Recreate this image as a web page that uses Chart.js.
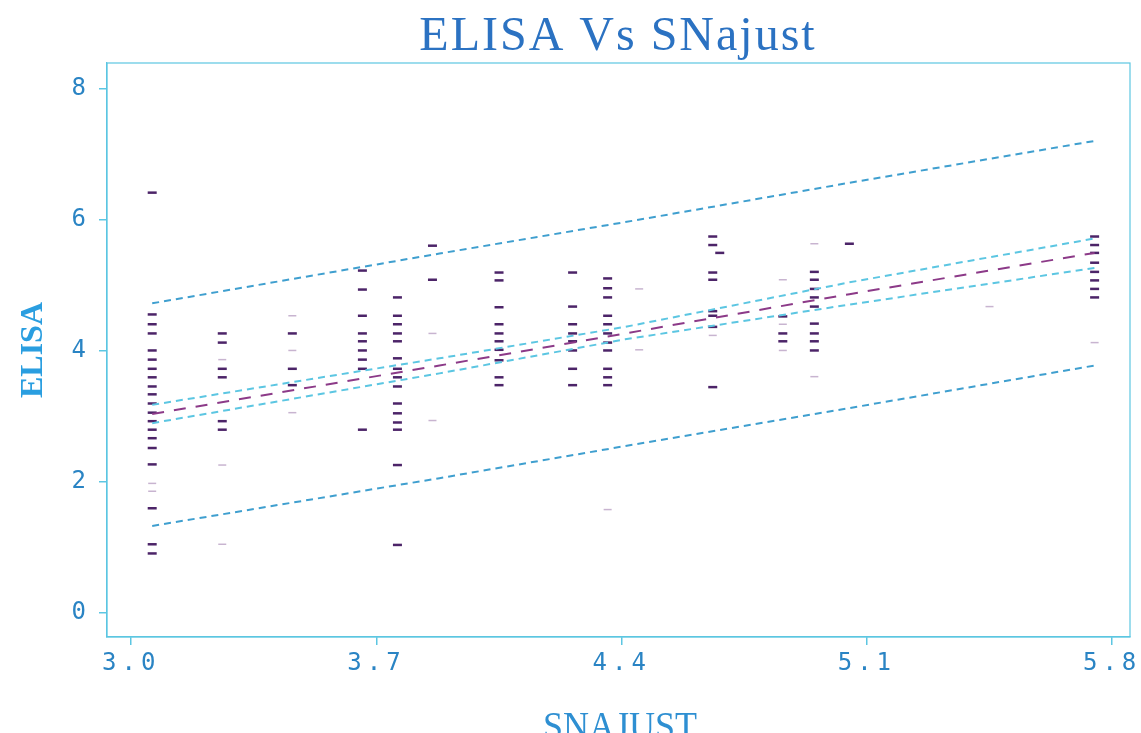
<!DOCTYPE html>
<html>
<head>
<meta charset="utf-8">
<script src="https://cdn.jsdelivr.net/npm/chart.js@4/dist/chart.umd.min.js"></script>
<style>
  html, body { margin: 0; padding: 0; background: #fff; }
  #wrap { width: 1141px; height: 733px; position: relative; }
</style>
</head>
<body>
<div id="wrap"><canvas id="chart"></canvas></div>
<script>
"use strict";

// tick labels
const xTicks = [3.0, 3.7, 4.4, 5.1, 5.8];
const yTicks = [0, 2, 4, 6, 8];

// SNAJUST value of each column of observations
const columnX = [3.06, 3.26, 3.46, 3.66, 3.76, 3.86, 4.05, 4.26, 4.36, 4.45, 4.66, 4.68, 4.86, 4.95, 5.05, 5.45, 5.75];

// ELISA readings per column (clearly printed marks)
const elisaStrong = [
  [6.42, 4.56, 4.41, 4.27, 4.01, 3.87, 3.73, 3.60, 3.46, 3.34, 3.20, 3.06, 2.93, 2.80, 2.67, 2.52, 2.27, 1.60, 1.05, 0.91],
  [4.27, 4.13, 3.73, 3.60, 2.93, 2.80],
  [4.27, 3.73, 3.48],
  [5.23, 4.94, 4.54, 4.27, 4.15, 4.01, 3.87, 3.73, 2.80],
  [4.82, 4.54, 4.41, 4.27, 4.15, 3.89, 3.73, 3.60, 3.46, 3.20, 3.05, 2.91, 2.80, 2.26, 1.04],
  [5.61, 5.09],
  [5.20, 5.08, 4.67, 4.41, 4.27, 4.15, 4.02, 3.86, 3.60, 3.48],
  [5.20, 4.68, 4.41, 4.27, 4.15, 4.01, 3.73, 3.48],
  [5.11, 4.96, 4.82, 4.54, 4.41, 4.27, 4.13, 4.01, 3.73, 3.60, 3.48],
  [],
  [5.75, 5.62, 5.20, 5.09, 4.61, 4.54, 4.37, 3.45],
  [5.50],
  [4.53, 4.27, 4.15],
  [5.21, 5.09, 4.95, 4.82, 4.68, 4.42, 4.27, 4.15, 4.01],
  [5.64],
  [],
  [5.75, 5.62, 5.50, 5.35, 5.21, 5.08, 4.95, 4.82]
];

// ELISA readings per column (faint marks)
const elisaFaint = [
  [1.98, 1.86],
  [3.87, 2.26, 1.05],
  [4.54, 4.01, 3.06],
  [],
  [],
  [4.27, 2.94],
  [],
  [],
  [1.58],
  [4.95, 4.02],
  [4.24],
  [],
  [5.09, 4.41, 4.01],
  [5.64, 3.61],
  [],
  [4.68],
  [4.13]
];

// fitted line with confidence and prediction limits
const lineX     = [3.06, 3.88, 4.41, 5.05, 5.75];
const fitY      = [3.04, 3.78, 4.27, 4.87, 5.50];
const confUpper = [3.18, 3.89, 4.37, 5.05, 5.72];
const confLower = [2.90, 3.66, 4.18, 4.71, 5.27];
const predUpper = [4.73, 5.49, 5.97, 6.57, 7.21];
const predLower = [1.33, 2.06, 2.55, 3.13, 3.78];

const titleText = "ELISA Vs SNajust";
const xTitle = "SNAJUST";
const yTitle = "ELISA";

function points(cols) {
  const out = [];
  cols.forEach((ys, i) => ys.forEach(y => out.push({ x: columnX[i], y: y })));
  return out;
}
function linePts(ys) {
  return lineX.map((x, i) => ({ x: x, y: ys[i] }));
}

const cyan = "#5cc6e2";
const bandStyle = {
  type: "line", showLine: true, pointRadius: 0, fill: false,
  borderColor: "#3f9fcf", borderWidth: 2, borderDash: [7, 5], tension: 0
};

const frame = {
  id: "frame",
  beforeDraw(chart) {
    chart.ctx.letterSpacing = "5px";
  },
  afterDraw(chart) {
    const { ctx, chartArea: a } = chart;
    ctx.save();
    ctx.letterSpacing = "0px";
    ctx.strokeStyle = cyan;
    ctx.lineWidth = 1.2;
    ctx.strokeRect(a.left, a.top, a.right - a.left, a.bottom - a.top);

    ctx.fillStyle = "#2b72c2";
    ctx.textAlign = "center";
    ctx.textBaseline = "alphabetic";
    ctx.font = "48px 'Liberation Serif', serif";
    ctx.letterSpacing = "2px";
    ctx.fillText(titleText, 618, 50);

    // x title sits low and is clipped by the bottom edge
    ctx.letterSpacing = "0px";
    ctx.save();
    ctx.translate(620, 739);
    ctx.scale(0.9, 1);
    ctx.fillStyle = "#2e8fd2";
    ctx.font = "40px 'Liberation Serif', serif";
    ctx.fillText(xTitle, 0, 0);
    ctx.restore();

    ctx.save();
    ctx.translate(42, 350);
    ctx.rotate(-Math.PI / 2);
    ctx.font = "bold 32px 'Liberation Serif', serif";
    ctx.fillStyle = "#2a9ee0";
    ctx.fillText(yTitle, 0, 0);
    ctx.restore();
    ctx.restore();
  }
};

new Chart(document.getElementById("chart"), {
  type: "scatter",
  data: {
    datasets: [
      { ...bandStyle, data: linePts(predUpper) },
      { ...bandStyle, data: linePts(predLower) },
      { ...bandStyle, borderColor: cyan, data: linePts(confUpper) },
      { ...bandStyle, borderColor: cyan, data: linePts(confLower) },
      { type: "line", showLine: true, pointRadius: 0, fill: false, tension: 0,
        borderColor: "#8c3a88", borderWidth: 2, borderDash: [12, 10], data: linePts(fitY) },
      { data: points(elisaFaint), pointStyle: "line", radius: 4, borderWidth: 1.5,
        borderColor: "#c8b4d0", backgroundColor: "#c8b4d0" },
      { data: points(elisaStrong), pointStyle: "line", radius: 4.5, borderWidth: 2.5,
        borderColor: "#4c2468", backgroundColor: "#4c2468" }
    ]
  },
  options: {
    responsive: true,
    maintainAspectRatio: false,
    animation: false,
    layout: { padding: { left: 0, right: 11, top: 63, bottom: 0 } },
    plugins: { legend: { display: false }, tooltip: { enabled: false } },
    scales: {
      x: {
        type: "linear",
        min: 2.931, max: 5.851,
        afterBuildTicks: s => { s.ticks = xTicks.map(v => ({ value: v })); },
        afterFit: s => { s.height = 96; },
        ticks: {
          callback: v => v.toFixed(1),
          color: "#2a84c4", padding: 4,
          font: { family: "'DejaVu Sans Mono', monospace", size: 24 }
        },
        grid: { drawOnChartArea: false, drawTicks: true, tickLength: 8, color: cyan, lineWidth: 1.5 },
        border: { display: true, color: cyan, width: 1.2 }
      },
      y: {
        type: "linear",
        min: -0.366, max: 8.40,
        afterBuildTicks: s => { s.ticks = yTicks.map(v => ({ value: v })); },
        afterFit: s => { s.width = 107; },
        ticks: {
          callback: v => String(v),
          color: "#2a84c4", padding: 8,
          font: { family: "'DejaVu Sans Mono', monospace", size: 24 }
        },
        grid: { drawOnChartArea: false, drawTicks: true, tickLength: 8, color: cyan, lineWidth: 1.5 },
        border: { display: true, color: cyan, width: 1.2 }
      }
    }
  },
  plugins: [frame]
});
</script>
</body>
</html>
